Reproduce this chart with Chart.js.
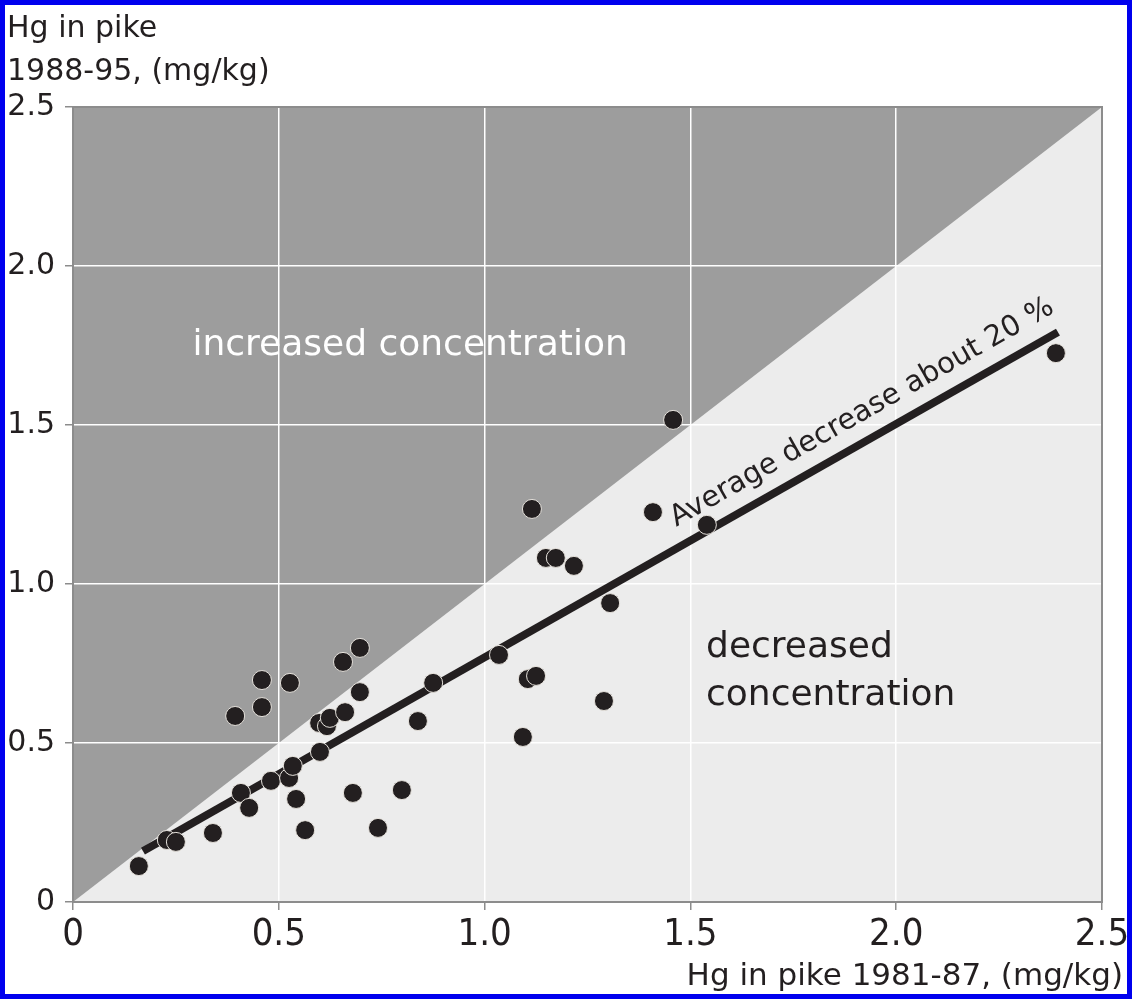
<!DOCTYPE html>
<html>
<head>
<meta charset="utf-8">
<script src="https://cdn.jsdelivr.net/npm/chart.js@4/dist/chart.umd.min.js"></script>
<style>
body{margin:0;background:#fff;}
#wrap{width:1132px;height:999px;position:relative;}
</style>
</head>
<body>
<div id="wrap"><canvas id="myChart"></canvas></div>
<script>
// Hg in pike, 1981-87 (x) vs 1988-95 (y), mg/kg
var hgEarly = [0.160, 0.228, 0.250, 0.340, 0.394, 0.408, 0.428, 0.459, 0.459, 0.481,
  0.527, 0.525, 0.534, 0.542, 0.564, 0.600, 0.598, 0.617, 0.624, 0.656,
  0.661, 0.680, 0.697, 0.697, 0.741, 0.799, 0.838, 0.875, 1.035, 1.093,
  1.105, 1.125, 1.115, 1.149, 1.173, 1.217, 1.290, 1.305, 1.409, 1.458,
  1.540, 2.388];
var hgLate = [0.113, 0.195, 0.189, 0.217, 0.585, 0.343, 0.296, 0.613, 0.698, 0.381,
  0.689, 0.390, 0.428, 0.324, 0.226, 0.472, 0.563, 0.553, 0.579, 0.755,
  0.597, 0.343, 0.799, 0.660, 0.233, 0.352, 0.569, 0.689, 0.777, 0.519,
  0.701, 0.711, 1.236, 1.082, 1.082, 1.057, 0.632, 0.940, 1.226, 1.516,
  1.186, 1.726];

// fitted line (average decrease about 20 %)
var fitX = [0.170, 2.393];
var fitY = [0.160, 1.792];

// 1:1 line splitting increased / decreased
var diagonal = [0, 2.5];

var tickVals = [0, 0.5, 1.0, 1.5, 2.0, 2.5];
var tickText = ['0', '0.5', '1.0', '1.5', '2.0', '2.5'];

var yTitle = ['Hg in pike', '1988-95, (mg/kg)'];
var xTitle = 'Hg in pike 1981-87, (mg/kg)';
var lineLabel = 'Average decrease about 20 %';
var upLabel = 'increased concentration';
var downLabel = ['decreased', 'concentration'];

var ink = '#231f20';
var darkGrey = '#9d9d9d';
var lightGrey = '#ececec';
var frameGrey = '#8c8c8c';

var pts = [];
for (var i = 0; i < hgEarly.length; i++) {
  pts.push({x: hgEarly[i], y: hgLate[i]});
}
var fitPts = [{x: fitX[0], y: fitY[0]}, {x: fitX[1], y: fitY[1]}];

// background triangles drawn under the grid
var backdrop = {
  id: 'backdrop',
  beforeDraw: function(chart) {
    var ctx = chart.ctx, xs = chart.scales.x, ys = chart.scales.y;
    var a = chart.chartArea;
    ctx.save();
    ctx.fillStyle = lightGrey;
    ctx.fillRect(a.left, a.top, a.right - a.left, a.bottom - a.top);
    ctx.fillStyle = darkGrey;
    ctx.beginPath();
    ctx.moveTo(xs.getPixelForValue(diagonal[0]), ys.getPixelForValue(diagonal[0]));
    ctx.lineTo(xs.getPixelForValue(diagonal[1]), ys.getPixelForValue(diagonal[1]));
    ctx.lineTo(xs.getPixelForValue(diagonal[0]), ys.getPixelForValue(diagonal[1]));
    ctx.closePath();
    ctx.fill();
    ctx.restore();
  },
  beforeDatasetsDraw: function(chart) {
    var ctx = chart.ctx, a = chart.chartArea;
    ctx.save();
    ctx.strokeStyle = frameGrey;
    ctx.lineWidth = 2;
    ctx.strokeRect(a.left, a.top, a.right - a.left, a.bottom - a.top);
    ctx.restore();
  },
  afterDraw: function(chart) {
    var ctx = chart.ctx, xs = chart.scales.x, ys = chart.scales.y;
    ctx.save();
    ctx.textBaseline = 'alphabetic';

    // axis titles
    ctx.fillStyle = ink;
    ctx.font = '30px "DejaVu Sans"';
    ctx.textAlign = 'left';
    ctx.fillText(yTitle[0], 7, 37);
    ctx.fillText(yTitle[1], 7, 80);
    ctx.font = '31px "DejaVu Sans"';
    ctx.textAlign = 'right';
    ctx.fillText(xTitle, 1123, 985);

    // region labels
    ctx.font = '36px "DejaVu Sans"';
    ctx.textAlign = 'center';
    ctx.fillStyle = '#ffffff';
    ctx.fillText(upLabel, xs.getPixelForValue(0.819), ys.getPixelForValue(1.72));
    ctx.fillStyle = ink;
    ctx.textAlign = 'left';
    ctx.fillText(downLabel[0], xs.getPixelForValue(1.538), ys.getPixelForValue(0.770));
    ctx.fillText(downLabel[1], xs.getPixelForValue(1.538), ys.getPixelForValue(0.619));

    // label along the fitted line
    var x1 = xs.getPixelForValue(fitX[0]), y1 = ys.getPixelForValue(fitY[0]);
    var x2 = xs.getPixelForValue(fitX[1]), y2 = ys.getPixelForValue(fitY[1]);
    var ang = Math.atan2(y2 - y1, x2 - x1);
    var t = 0.593;
    ctx.translate(x1 + (x2 - x1) * t, y1 + (y2 - y1) * t);
    ctx.rotate(ang);
    ctx.font = '29px "DejaVu Sans"';
    ctx.fillText(lineLabel, 0, -19);
    ctx.restore();

    // blue frame
    ctx.save();
    ctx.strokeStyle = '#0000ee';
    ctx.lineWidth = 5;
    ctx.strokeRect(2.5, 2.5, chart.width - 5, chart.height - 5);
    ctx.restore();
  }
};

var config = {
  type: 'scatter',
  data: {
    datasets: [{
      label: 'Hg in pike',
      data: pts,
      order: 0,
      pointRadius: 9.5,
      pointBackgroundColor: ink,
      pointBorderColor: '#e6e2dc',
      pointBorderWidth: 1
    }, {
      label: 'fit',
      type: 'line',
      data: fitPts,
      order: 1,
      borderColor: ink,
      borderWidth: 8,
      pointRadius: 0,
      fill: false
    }]
  },
  options: {
    responsive: true,
    maintainAspectRatio: false,
    animation: false,
    layout: {padding: {left: 7, top: 107, right: 30, bottom: 0}},
    plugins: {legend: {display: false}, tooltip: {enabled: false}},
    scales: {
      x: {
        type: 'linear',
        min: 0, max: 2.5,
        afterBuildTicks: function(s) { s.ticks = tickVals.map(function(v){ return {value: v}; }); },
        afterFit: function(s) { s.height = 97; },
        ticks: {
          padding: 2,
          color: ink,
          font: {family: '"Liberation Sans Narrow", "DejaVu Sans Condensed", "Liberation Sans"', size: 38},
          callback: function(v) { return tickText[tickVals.indexOf(v)]; }
        },
        grid: {color: '#ffffff', lineWidth: 1.5, tickColor: frameGrey, tickLength: 8, tickWidth: 1.5},
        border: {display: false}
      },
      y: {
        type: 'linear',
        min: 0, max: 2.5,
        afterBuildTicks: function(s) { s.ticks = tickVals.map(function(v){ return {value: v}; }); },
        afterFit: function(s) { s.width = 66; },
        ticks: {
          padding: 10,
          color: ink,
          font: {family: '"DejaVu Sans"', size: 30},
          callback: function(v) { return tickText[tickVals.indexOf(v)]; }
        },
        grid: {color: '#ffffff', lineWidth: 1.5, tickColor: frameGrey, tickLength: 8, tickWidth: 1.5},
        border: {display: false}
      }
    }
  },
  plugins: [backdrop]
};

var myChart = new Chart(document.getElementById('myChart'), config);
</script>
</body>
</html>
